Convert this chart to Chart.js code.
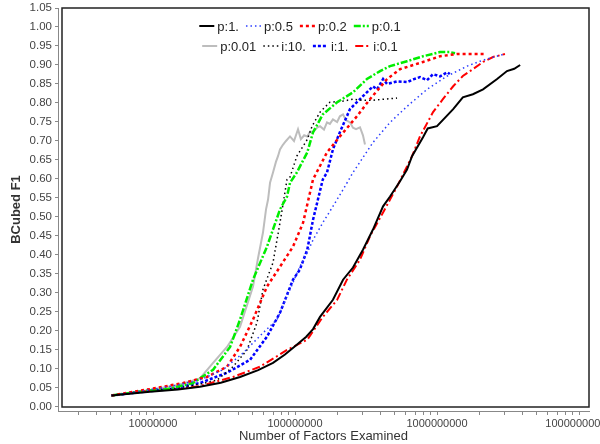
<!DOCTYPE html>
<html>
<head>
<meta charset="utf-8">
<script src="https://cdn.jsdelivr.net/npm/chart.js@4/dist/chart.umd.min.js"></script>
<style>
  html, body { margin: 0; padding: 0; background: #fff; }
</style>
</head>
<body>
<canvas id="chart" width="600" height="444"></canvas>
<script>
// values (x = factors examined, y = BCubed F1)
const p1X = [5.1e6, 9.5e6, 1.5e7, 2.14e7, 3.0e7, 4.1e7, 5.5e7, 7.0e7, 8.5e7, 1.0e8, 1.2e8, 1.34e8, 1.5e8, 1.85e8, 2.18e8, 2.56e8, 3.01e8, 3.54e8, 4.17e8, 4.67e8, 5.49e8, 6.15e8, 6.67e8, 7.97e8, 8.6e8, 1.0e9, 1.3e9, 1.52e9, 1.79e9, 2.11e9, 2.65e9, 3.11e9, 3.5e9, 3.85e9];
const p1Y = [0.030, 0.040, 0.046, 0.053, 0.064, 0.079, 0.097, 0.116, 0.138, 0.160, 0.185, 0.205, 0.237, 0.282, 0.335, 0.367, 0.414, 0.467, 0.528, 0.554, 0.594, 0.625, 0.660, 0.710, 0.733, 0.739, 0.784, 0.815, 0.823, 0.836, 0.863, 0.884, 0.890, 0.900];

const p05X = [5.1e6, 9.5e6, 1.5e7, 2.14e7, 3.11e7, 4.31e7, 5.95e7, 7.47e7, 9.22e7, 1.08e8, 1.22e8, 1.34e8, 1.57e8, 1.85e8, 2.18e8, 2.56e8, 3.54e8, 4.67e8, 6.15e8, 8.51e8, 1.18e9, 1.63e9, 2.01e9, 2.36e9, 3.01e9];
const p05Y = [0.030, 0.045, 0.058, 0.071, 0.098, 0.142, 0.195, 0.230, 0.309, 0.369, 0.406, 0.440, 0.485, 0.528, 0.572, 0.617, 0.696, 0.749, 0.791, 0.836, 0.871, 0.897, 0.910, 0.918, 0.929];

const p02X = [5.1e6, 9.5e6, 1.63e7, 2.40e7, 3.32e7, 4.10e7, 5.06e7, 6.35e7, 7.84e7, 9.68e7, 1.14e8, 1.34e8, 1.68e8, 2.07e8, 2.73e8, 3.37e8, 4.45e8, 5.49e8, 7.97e8, 1.05e9, 1.38e9, 1.79e9, 2.2e9];
const p02Y = [0.030, 0.047, 0.063, 0.079, 0.106, 0.158, 0.230, 0.317, 0.369, 0.422, 0.485, 0.599, 0.670, 0.712, 0.765, 0.810, 0.863, 0.889, 0.908, 0.923, 0.929, 0.929, 0.929];

const p01X = [5.1e6, 9.5e6, 1.26e7, 1.91e7, 2.65e7, 3.49e7, 4.10e7, 5.06e7, 6.35e7, 7.84e7, 8.79e7, 9.22e7, 1.03e8, 1.22e8, 1.34e8, 1.57e8, 1.98e8, 2.56e8, 3.21e8, 3.97e8, 4.67e8, 6.15e8, 7.97e8, 1.05e9, 1.23e9, 1.34e9];
const p01Y = [0.030, 0.044, 0.047, 0.063, 0.098, 0.158, 0.230, 0.335, 0.422, 0.520, 0.554, 0.590, 0.617, 0.670, 0.723, 0.770, 0.802, 0.828, 0.863, 0.884, 0.897, 0.910, 0.923, 0.934, 0.934, 0.931];

const p001X = [5.1e6, 9.5e6, 1.5e7, 2.14e7, 2.65e7, 3.32e7, 4.1e7, 5.06e7, 5.48e7, 5.95e7, 6.25e7, 6.46e7, 6.67e7, 7.0e7, 7.34e7, 7.59e7, 7.84e7, 8.22e7, 8.64e7, 9.22e7, 9.84e7, 1.05e8, 1.10e8, 1.16e8, 1.22e8, 1.28e8, 1.34e8, 1.43e8, 1.50e8, 1.60e8, 1.68e8, 1.76e8, 1.85e8, 1.98e8, 2.07e8, 2.18e8, 2.28e8, 2.44e8, 2.56e8, 2.69e8, 2.87e8, 3.01e8, 3.11e8];
const p001Y = [0.030, 0.045, 0.058, 0.075, 0.116, 0.158, 0.211, 0.317, 0.390, 0.459, 0.520, 0.546, 0.590, 0.617, 0.645, 0.660, 0.678, 0.690, 0.700, 0.712, 0.700, 0.731, 0.705, 0.715, 0.712, 0.725, 0.723, 0.735, 0.739, 0.730, 0.749, 0.745, 0.757, 0.750, 0.765, 0.770, 0.755, 0.749, 0.735, 0.731, 0.736, 0.715, 0.691];

const i10X = [5.1e6, 9.5e6, 1.5e7, 2.14e7, 2.83e7, 3.66e7, 4.59e7, 5.40e7, 5.95e7, 7.0e7, 7.84e7, 8.79e7, 9.22e7, 1.03e8, 1.22e8, 1.32e8, 1.50e8, 1.76e8, 2.18e8, 2.56e8, 3.01e8, 3.54e8, 4.2e8, 5.23e8];
const i10Y = [0.030, 0.045, 0.050, 0.060, 0.071, 0.106, 0.150, 0.222, 0.309, 0.380, 0.485, 0.599, 0.605, 0.660, 0.704, 0.739, 0.776, 0.802, 0.805, 0.810, 0.807, 0.807, 0.810, 0.813];

const i1X = [5.1e6, 9.5e6, 1.26e7, 2.14e7, 3.32e7, 4.82e7, 6.35e7, 7.84e7, 9.68e7, 1.08e8, 1.22e8, 1.34e8, 1.45e8, 1.57e8, 1.68e8, 1.85e8, 2.07e8, 2.44e8, 3.01e8, 3.54e8, 3.78e8, 4.17e8, 4.45e8, 5.23e8, 6.15e8, 6.8e8, 7.59e8, 8.5e8, 9.38e8, 1.05e9, 1.18e9, 1.23e9];
const i1Y = [0.030, 0.042, 0.046, 0.063, 0.090, 0.124, 0.185, 0.248, 0.335, 0.361, 0.414, 0.493, 0.546, 0.599, 0.617, 0.678, 0.723, 0.784, 0.818, 0.844, 0.836, 0.863, 0.850, 0.857, 0.855, 0.862, 0.868, 0.860, 0.876, 0.870, 0.881, 0.876];

const i01X = [5.1e6, 9.5e6, 1.5e7, 2.14e7, 3.66e7, 5.67e7, 8.79e7, 1.22e8, 1.57e8, 1.98e8, 2.32e8, 2.87e8, 3.37e8, 4.17e8, 5.23e8, 6.67e8, 7.59e8, 9.38e8, 1.10e9, 1.30e9, 1.52e9, 1.79e9, 2.11e9, 2.48e9, 3.01e9];
const i01Y = [0.030, 0.043, 0.048, 0.055, 0.079, 0.106, 0.150, 0.177, 0.237, 0.282, 0.335, 0.388, 0.449, 0.512, 0.580, 0.660, 0.712, 0.776, 0.810, 0.844, 0.871, 0.889, 0.908, 0.921, 0.929];

const xTickValues = [3e6, 4e6, 5e6, 6e6, 7e6, 8e6, 9e6,
  1e7, 2e7, 3e7, 4e7, 5e7, 6e7, 7e7, 8e7, 9e7,
  1e8, 2e8, 3e8, 4e8, 5e8, 6e8, 7e8, 8e8, 9e8,
  1e9, 2e9, 3e9, 4e9, 5e9, 6e9, 7e9, 8e9, 9e9, 1e10];
const yTickValues = [0, 0.05, 0.1, 0.15, 0.2, 0.25, 0.3, 0.35, 0.4, 0.45, 0.5,
  0.55, 0.6, 0.65, 0.7, 0.75, 0.8, 0.85, 0.9, 0.95, 1.0, 1.05];

function pts(xs, ys) {
  return xs.map((x, i) => ({ x: x, y: ys[i] }));
}

const font = "'Liberation Sans', Arial, sans-serif";

// plot frame sits a few px inside the axis lines
const framePlugin = {
  id: "frame",
  afterDatasetsDraw(chart) {
    const { ctx, chartArea: a } = chart;
    ctx.save();
    ctx.strokeStyle = "#222";
    ctx.lineWidth = 1.5;
    ctx.strokeRect(a.left + 4, a.top, a.right - a.left - 4, a.bottom - a.top - 4);
    ctx.restore();
  },
};

// two-row legend drawn inside the plot, centred on the page
const legendPlugin = {
  id: "insideLegend",
  afterDraw(chart) {
    const ctx = chart.ctx;
    const sets = chart.data.datasets;
    const rows = [sets.slice(0, 4), sets.slice(4)];
    ctx.save();
    ctx.font = "13px " + font;
    ctx.textBaseline = "middle";
    rows.forEach((row, r) => {
      const y = 26 + r * 20;
      const widths = row.map((ds) => 18 + ctx.measureText(ds.label).width);
      const total = widths.reduce((a, b) => a + b, 0) + 7 * (row.length - 1);
      let x = chart.width / 2 - total / 2;
      row.forEach((ds, i) => {
        ctx.beginPath();
        ctx.setLineDash(ds.borderDash || []);
        ctx.strokeStyle = ds.borderColor;
        ctx.lineWidth = ds.borderWidth;
        ctx.moveTo(x, y);
        ctx.lineTo(x + 15, y);
        ctx.stroke();
        ctx.setLineDash([]);
        ctx.fillStyle = "#222";
        ctx.fillText(ds.label, x + 18, y + 1);
        x += widths[i] + 7;
      });
    });
    ctx.restore();
  },
};

const ctx = document.getElementById("chart").getContext("2d");
new Chart(ctx, {
  type: "line",
  data: {
    datasets: [
      { label: "p:1.", data: pts(p1X, p1Y), borderColor: "#000000", borderWidth: 2 },
      { label: "p:0.5", data: pts(p05X, p05Y), borderColor: "#2a3cff", borderWidth: 1.5, borderDash: [1.5, 3] },
      { label: "p:0.2", data: pts(p02X, p02Y), borderColor: "#ff0000", borderWidth: 2.5, borderDash: [3, 3] },
      { label: "p:0.1", data: pts(p01X, p01Y), borderColor: "#00ee00", borderWidth: 2.5, borderDash: [7, 2, 2, 2] },
      { label: "p:0.01", data: pts(p001X, p001Y), borderColor: "#bdbdbd", borderWidth: 2, order: 10 },
      { label: "i:10.", data: pts(i10X, i10Y), borderColor: "#000000", borderWidth: 1.5, borderDash: [1.5, 3] },
      { label: "i:1.", data: pts(i1X, i1Y), borderColor: "#0000ff", borderWidth: 2.5, borderDash: [3, 2] },
      { label: "i:0.1", data: pts(i01X, i01Y), borderColor: "#ff0000", borderWidth: 2, borderDash: [8, 3, 2, 3] },
    ],
  },
  options: {
    responsive: false,
    animation: false,
    events: [],
    layout: { padding: { left: 0, right: 11, top: 8, bottom: 0 } },
    elements: { point: { radius: 0 }, line: { tension: 0 } },
    plugins: { legend: { display: false }, tooltip: { enabled: false } },
    scales: {
      x: {
        type: "logarithmic",
        min: 2.1427e6,
        max: 1.1759e10,
        afterBuildTicks: (s) => { s.ticks = xTickValues.map((v) => ({ value: v })); },
        afterFit: (s) => { s.height = 33; s.paddingLeft = 0; s.paddingRight = 0; },
        ticks: {
          autoSkip: false,
          maxRotation: 0,
          padding: 2,
          color: "#444",
          font: { family: font, size: 11 },
          callback: (v) => {
            const l = Math.log10(v);
            return Math.abs(l - Math.round(l)) < 1e-9 ? Math.round(v).toString() : "";
          },
        },
        grid: { drawOnChartArea: false, tickLength: 4, color: "#888" },
        border: { color: "#888" },
        title: {
          display: true,
          text: "Number of Factors Examined",
          color: "#333",
          font: { family: font, size: 13 },
          padding: 0,
        },
      },
      y: {
        min: -0.0106,
        max: 1.05,
        afterBuildTicks: (s) => { s.ticks = yTickValues.map((v) => ({ value: v })); },
        afterFit: (s) => { s.width = 58; s.paddingTop = 0; s.paddingBottom = 0; },
        ticks: {
          padding: 3,
          color: "#444",
          font: { family: font, size: 11.5 },
          callback: (v) => v.toFixed(2),
        },
        grid: { drawOnChartArea: false, tickLength: 3, color: "#888" },
        border: { color: "#888" },
        title: {
          display: true,
          text: "BCubed F1",
          color: "#333",
          font: { family: font, size: 13, weight: "bold" },
          padding: { top: 9, bottom: 0 },
        },
      },
    },
  },
  plugins: [framePlugin, legendPlugin],
});
</script>
</body>
</html>
